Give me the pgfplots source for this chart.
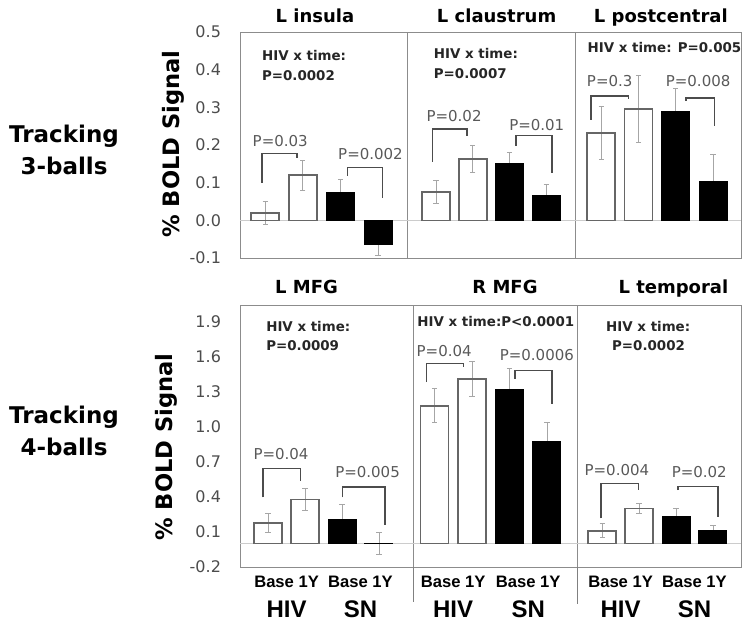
\documentclass[border=0pt]{standalone}
\usepackage{pgfplots}
\pgfplotsset{compat=1.18}
\usepackage{pgfplotstable}
\usepackage{fontspec}
\setmainfont{DejaVu Sans}
\newfontfamily\lib{Liberation Sans}
\newcommand{\fs}[1]{\fontsize{#1}{#1}\selectfont}

% columns: bar position, mean % BOLD signal, error
\pgfplotstableread{
x y e
1 0.019 0.030
2 0.120 0.040
3 0.075 0.035
4 -0.064 0.030
}\tabInsula
\pgfplotstableread{
x y e
1 0.075 0.030
2 0.163 0.035
3 0.151 0.030
4 0.065 0.030
}\tabClaustrum
\pgfplotstableread{
x y e
1 0.232 0.070
2 0.296 0.090
3 0.290 0.060
4 0.102 0.073
}\tabPostcentral
\pgfplotstableread{
x y e
1 0.178 0.080
2 0.378 0.090
3 0.208 0.130
4 0.004 0.093
}\tabLMFG
\pgfplotstableread{
x y e
1 1.178 0.145
2 1.406 0.150
3 1.320 0.180
4 0.876 0.160
}\tabRMFG
\pgfplotstableread{
x y e
1 0.110 0.060
2 0.300 0.045
3 0.236 0.065
4 0.108 0.045
}\tabLtemporal

\tikzset{
  hivt/.style={anchor=west, font=\bfseries\fs{6.7}, text=black!85},
  plab/.style={font=\fs{7.5}, text=black!65},
  grp/.style={anchor=base, font=\lib\bfseries\fs{12}},
}

\pgfplotsset{
  panel/.style={
    scale only axis, anchor=south west,
    axis line style={draw=black!45, line width=0.5pt},
    tick style={draw=none},
    clip mode=individual,
    /pgf/number format/assume math mode=true,
    ticklabel style={font=\fs{8}, text=black!70},
    yticklabel style={xshift=-6pt},
  },
  toprow/.style={panel, height=113pt, ymin=-0.1, ymax=0.5, xtick=\empty, ytick=\empty},
  toplabels/.style={ytick={-0.1,0,0.1,0.2,0.3,0.4,0.5}, yticklabels={-0.1,0.0,0.1,0.2,0.3,0.4,0.5}},
  botrow/.style={panel, height=131pt, ymin=-0.2, ymax=2.04, ytick=\empty,
    xtick={1.5,3.5}, xticklabels={Base 1Y,Base 1Y},
    xticklabel style={font=\lib\bfseries\fs{8.3}, text=black, yshift=-1.2pt}},
  botlabels/.style={ytick={-0.2,0.1,0.4,0.7,1.0,1.3,1.6,1.9}, yticklabels={-0.2,0.1,0.4,0.7,1.0,1.3,1.6,1.9}},
  errs/.style={draw=none, mark=none, forget plot,
    error bars/.cd, y dir=both, y explicit,
    error bar style={draw=black!35, line width=0.4pt},
    error mark options={rotate=90, mark size=1.3pt, draw=black!35, line width=0.4pt}},
  whitebar/.style={ybar, bar width=14pt, bar shift=0pt, fill=none, draw=black!60, line width=0.8pt, restrict x to domain=0.5:2.5},
  blackbar/.style={ybar, bar width=14pt, bar shift=0pt, fill=black, draw=black, line width=0.5pt, restrict x to domain=2.5:4.5},
  bracket/.style={black!70, line width=0.75pt, mark=none},
  zline/.style={black!20, line width=0.4pt, mark=none},
}

\begin{document}
\begin{tikzpicture}
\path (0,0) rectangle (375pt,312pt);

% ---------------- top row: Tracking 3-balls ----------------
\begin{axis}[toprow, toplabels, at={(120pt,183pt)}, width=83.5pt, xmin=0.33, xmax=4.77]
\addplot[zline] coordinates {(0.33,0) (4.77,0)};
\addplot[errs] table[x=x, y=y, y error=e] {\tabInsula};
\addplot[whitebar] table[x=x, y=y] {\tabInsula};
\addplot[blackbar] table[x=x, y=y] {\tabInsula};
\addplot[bracket] coordinates {(0.92,0.10) (0.92,0.178) (1.85,0.178) (1.85,0.165)};
\addplot[bracket] coordinates {(3.19,0.118) (3.19,0.14) (4.12,0.14) (4.12,0.058)};
\node[plab] at (axis cs:1.40,0.21) {P=0.03};
\node[plab] at (axis cs:3.80,0.175) {P=0.002};
\node[hivt] at (axis cs:0.73,0.438) {HIV x time:};
\node[hivt] at (axis cs:0.73,0.383) {P=0.0002};
\end{axis}

\begin{axis}[toprow, at={(203.5pt,183pt)}, width=84pt, xmin=0.21, xmax=4.78]
\addplot[zline] coordinates {(0.21,0) (4.78,0)};
\addplot[errs] table[x=x, y=y, y error=e] {\tabClaustrum};
\addplot[whitebar] table[x=x, y=y] {\tabClaustrum};
\addplot[blackbar] table[x=x, y=y] {\tabClaustrum};
\addplot[bracket] coordinates {(0.90,0.155) (0.90,0.243) (1.84,0.243) (1.84,0.225)};
\addplot[bracket] coordinates {(3.18,0.198) (3.18,0.225) (4.16,0.225) (4.16,0.125)};
\node[plab] at (axis cs:1.49,0.278) {P=0.02};
\node[plab] at (axis cs:3.74,0.253) {P=0.01};
\node[hivt] at (axis cs:0.75,0.443) {HIV x time:};
\node[hivt] at (axis cs:0.75,0.389) {P=0.0007};
\end{axis}

\begin{axis}[toprow, at={(287.5pt,183pt)}, width=83pt, xmin=0.3, xmax=4.75]
\addplot[zline] coordinates {(0.3,0) (4.75,0)};
\addplot[errs] table[x=x, y=y, y error=e] {\tabPostcentral};
\addplot[whitebar] table[x=x, y=y] {\tabPostcentral};
\addplot[blackbar] table[x=x, y=y] {\tabPostcentral};
\addplot[bracket] coordinates {(0.73,0.267) (0.73,0.33) (1.74,0.33) (1.74,0.323)};
\addplot[bracket] coordinates {(3.27,0.318) (3.27,0.325) (4.04,0.325) (4.04,0.251)};
\node[plab] at (axis cs:1.23,0.369) {P=0.3};
\node[plab] at (axis cs:3.60,0.369) {P=0.008};
\node[hivt] at (axis cs:0.45,0.46) {HIV x time: P=0.005};
\end{axis}

% ---------------- bottom row: Tracking 4-balls ----------------
\begin{axis}[botrow, botlabels, at={(120pt,28.5pt)}, width=86.5pt, xmin=0.24, xmax=4.92]
\addplot[zline] coordinates {(0.24,0) (4.92,0)};
\addplot[errs] table[x=x, y=y, y error=e] {\tabLMFG};
\addplot[whitebar] table[x=x, y=y] {\tabLMFG};
\addplot[blackbar] table[x=x, y=y] {\tabLMFG};
\addplot[bracket] coordinates {(0.86,0.395) (0.86,0.643) (1.88,0.643) (1.88,0.537)};
\addplot[bracket] coordinates {(3.01,0.395) (3.01,0.486) (4.16,0.486) (4.16,0.159)};
\node[plab] at (axis cs:1.35,0.762) {P=0.04};
\node[plab] at (axis cs:3.69,0.609) {P=0.005};
\node[hivt] at (axis cs:0.76,1.852) {HIV x time:};
\node[hivt] at (axis cs:0.76,1.696) {P=0.0009};
\node[grp] at (axis cs:1.5,-0.633) {HIV};
\node[grp] at (axis cs:3.5,-0.633) {SN};
\end{axis}

\begin{axis}[botrow, at={(206.5pt,28.5pt)}, width=82pt, xmin=0.43, xmax=4.8]
\addplot[zline] coordinates {(0.43,0) (4.8,0)};
\addplot[errs] table[x=x, y=y, y error=e] {\tabRMFG};
\addplot[whitebar] table[x=x, y=y] {\tabRMFG};
\addplot[blackbar] table[x=x, y=y] {\tabRMFG};
\addplot[bracket] coordinates {(0.79,1.38) (0.79,1.54) (1.77,1.54) (1.77,1.51)};
\addplot[bracket] coordinates {(3.15,1.41) (3.15,1.48) (4.14,1.48) (4.14,1.19)};
\node[plab] at (axis cs:1.26,1.647) {P=0.04};
\node[plab] at (axis cs:3.73,1.61) {P=0.0006};
\node[hivt] at (axis cs:0.36,1.895) {HIV x time:P<0.0001};
\node[grp] at (axis cs:1.5,-0.633) {HIV};
\node[grp] at (axis cs:3.5,-0.633) {SN};
\end{axis}

\begin{axis}[botrow, at={(288.5pt,28.5pt)}, width=82pt, xmin=0.32, xmax=4.76]
\addplot[zline] coordinates {(0.32,0) (4.76,0)};
\addplot[errs] table[x=x, y=y, y error=e] {\tabLtemporal};
\addplot[whitebar] table[x=x, y=y] {\tabLtemporal};
\addplot[blackbar] table[x=x, y=y] {\tabLtemporal};
\addplot[bracket] coordinates {(0.97,0.216) (0.97,0.515) (1.98,0.515) (1.98,0.458)};
\addplot[bracket] coordinates {(3.05,0.458) (3.05,0.49) (4.14,0.49) (4.14,0.23)};
\node[plab] at (axis cs:1.40,0.628) {P=0.004};
\node[plab] at (axis cs:3.63,0.609) {P=0.02};
\node[hivt] at (axis cs:0.92,1.852) {HIV x time:};
\node[hivt] at (axis cs:1.08,1.696) {P=0.0002};
\node[grp] at (axis cs:1.5,-0.633) {HIV};
\node[grp] at (axis cs:3.5,-0.633) {SN};
\end{axis}

% divider extensions below bottom row
\draw[black!50, line width=0.5pt] (206.5pt,28.5pt) -- (206.5pt,11pt);
\draw[black!50, line width=0.5pt] (288.5pt,28.5pt) -- (288.5pt,10pt);

% panel titles
\node[anchor=base, font=\bfseries\fs{9}] at (157.5pt,300.5pt) {L insula};
\node[anchor=base, font=\bfseries\fs{9}] at (248.3pt,300.5pt) {L claustrum};
\node[anchor=base, font=\bfseries\fs{9}] at (330.4pt,300.5pt) {L postcentral};
\node[anchor=base, font=\bfseries\fs{9}] at (153.3pt,165.5pt) {L MFG};
\node[anchor=base, font=\bfseries\fs{9}] at (252.5pt,165.5pt) {R MFG};
\node[anchor=base, font=\bfseries\fs{9}] at (336.7pt,165.5pt) {L temporal};

% y labels
\node[rotate=90, font=\bfseries\fs{11.3}] at (86.5pt,240pt) {\% BOLD Signal};
\node[rotate=90, font=\bfseries\fs{11.3}] at (83pt,88.5pt) {\% BOLD Signal};

% row labels
\node[align=center, font=\bfseries\fontsize{11.5}{16}\selectfont] at (32pt,237pt) {Tracking\\3-balls};
\node[align=center, font=\bfseries\fontsize{11.5}{16}\selectfont] at (32pt,96.5pt) {Tracking\\4-balls};
\end{tikzpicture}
\end{document}
